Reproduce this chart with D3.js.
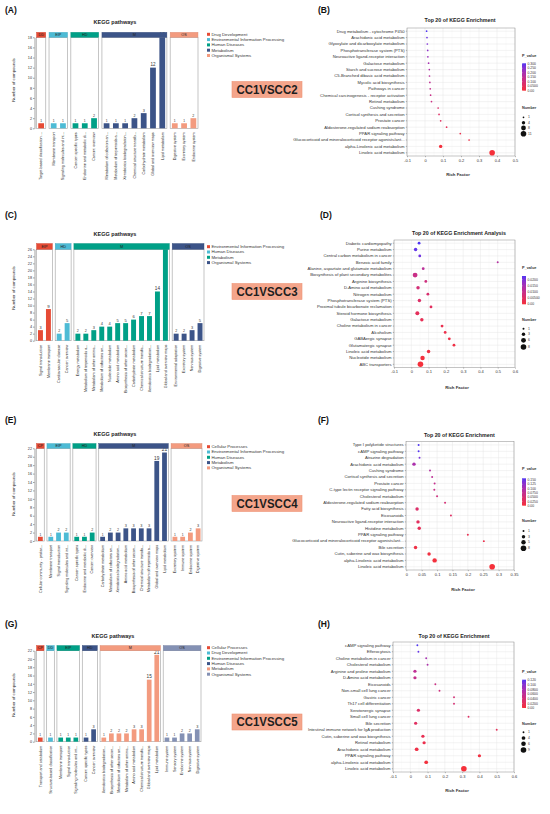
<!DOCTYPE html>
<html>
<head>
<meta charset="utf-8">
<script src="https://cdn.jsdelivr.net/npm/d3@7"></script>
<style>
  body { margin: 0; background: #fff; }
  svg text { font-family: "Liberation Sans", Arial, sans-serif; }
</style>
</head>
<body>
<svg id="fig" width="550" height="814"></svg>
<script>
// ggsci npg palette, assigned by legend order in each bar panel
const npg = ["#E64B35", "#4DBBD5", "#00A087", "#3C5488", "#F39B7F", "#8491B4"];

// ---------- (A) CC1VSCC2 KEGG classes ----------
const aGroups = ["DD", "EIP", "HD", "M", "OS"];
const aLegend = ["Drug Development", "Environmental Information Processing", "Human Diseases", "Metabolism", "Organismal Systems"];
const aLabels = ["Target-based classification ...", "Membrane transport", "Signaling molecules and int...",
  "Cancer: specific types", "Endocrine and metabolic di...", "Cancer: overview",
  "Metabolism of cofactors an...", "Metabolism of terpenoids a...", "Xenobiotics biodegradation...",
  "Chemical structure transfo...", "Carbohydrate metabolism", "Global and overview maps", "Lipid metabolism",
  "Digestive system", "Excretory system", "Endocrine system"];
const aValues = [1, 1, 1, 1, 1, 2, 1, 1, 1, 2, 3, 12, 18, 1, 1, 2];
const aGroupIdx = [0, 1, 1, 2, 2, 2, 3, 3, 3, 3, 3, 3, 3, 4, 4, 4];

// ---------- (B) CC1VSCC2 enrichment ----------
const bTerms = ["Drug metabolism - cytochrome P450", "Arachidonic acid metabolism", "Glyoxylate and dicarboxylate metabolism",
  "Phosphotransferase system (PTS)", "Neuroactive ligand-receptor interaction", "Galactose metabolism",
  "Starch and sucrose metabolism", "C5-Branched dibasic acid metabolism", "Mycolic acid biosynthesis",
  "Pathways in cancer", "Chemical carcinogenesis - receptor activation", "Retinol metabolism",
  "Cushing syndrome", "Cortisol synthesis and secretion", "Prostate cancer",
  "Aldosterone-regulated sodium reabsorption", "PPAR signaling pathway",
  "Glucocorticoid and mineralocorticoid receptor agonists/ant...", "alpha-Linolenic acid metabolism", "Linoleic acid metabolism"];
const bRich = [0.009, 0.011, 0.013, 0.015, 0.016, 0.020, 0.024, 0.025, 0.027, 0.029, 0.031, 0.036,
  0.073, 0.078, 0.087, 0.120, 0.196, 0.245, 0.087, 0.373];
const bPval = [0.305, 0.28, 0.26, 0.24, 0.22, 0.20, 0.18, 0.165, 0.15, 0.14, 0.13, 0.12,
  0.08, 0.07, 0.06, 0.05, 0.03, 0.02, 0.005, 0.0001];
const bCount = [1, 1, 1, 1, 1, 1, 1, 1, 1, 1, 1, 1, 1, 1, 1, 1, 1, 1, 4, 11];
const bXTicks = [-0.1, 0, 0.1, 0.2, 0.3, 0.4, 0.5];
const bPTicks = [0.3, 0.25, 0.2, 0.15, 0.1, 0.05, 0];
const bPLabels = ["0.300", "0.250", "0.200", "0.150", "0.100", "0.0500", "0.00"];
const bNTicks = [1, 4, 8, 11];

// ---------- (C) CC1VSCC3 KEGG classes ----------
const cGroups = ["EIP", "HD", "M", "OS"];
const cLegend = ["Environmental Information Processing", "Human Diseases", "Metabolism", "Organismal Systems"];
const cLabels = ["Signal transduction", "Membrane transport", "Cardiovascular disease", "Cancer: overview",
  "Energy metabolism", "Metabolism of terpenoids a...", "Metabolism of other amino...", "Metabolism of cofactors an...",
  "Nucleotide metabolism", "Amino acid metabolism", "Biosynthesis of other secon...", "Carbohydrate metabolism",
  "Chemical structure transfo...", "Xenobiotics biodegradation...", "Lipid metabolism", "Global and overview maps",
  "Environmental adaptation", "Excretory system", "Nervous system", "Digestive system"];
const cValues = [3, 9, 2, 5, 2, 2, 3, 4, 4, 5, 5, 6, 7, 7, 14, 26, 2, 2, 3, 5];
const cGroupIdx = [0, 0, 1, 1, 2, 2, 2, 2, 2, 2, 2, 2, 2, 2, 2, 2, 3, 3, 3, 3];

// ---------- (D) CC1VSCC3 enrichment ----------
const dTerms = ["Diabetic cardiomyopathy", "Purine metabolism", "Central carbon metabolism in cancer", "Benzoic acid family",
  "Alanine, aspartate and glutamate metabolism", "Biosynthesis of plant secondary metabolites", "Arginine biosynthesis",
  "D-Amino acid metabolism", "Nitrogen metabolism", "Phosphotransferase system (PTS)",
  "Proximal tubule bicarbonate reclamation", "Steroid hormone biosynthesis", "Galactose metabolism",
  "Choline metabolism in cancer", "Alcoholism", "GABAergic synapse", "Glutamatergic synapse",
  "Linoleic acid metabolism", "Nucleotide metabolism", "ABC transporters"];
const dRich = [0.045, 0.025, 0.049, 0.500, 0.069, 0.022, 0.084, 0.039, 0.096, 0.047, 0.114, 0.035, 0.061,
  0.178, 0.196, 0.220, 0.247, 0.100, 0.065, 0.053];
const dPval = [0.023, 0.022, 0.021, 0.013, 0.012, 0.0095, 0.0085, 0.0075, 0.0065, 0.0055, 0.0045, 0.004,
  0.0032, 0.0025, 0.002, 0.0016, 0.0013, 0.001, 0.0005, 0.0001];
const dCount = [2, 3, 2, 1, 2, 6, 2, 3, 2, 3, 2, 4, 3, 2, 2, 2, 2, 3, 5, 8];
const dXTicks = [-0.1, 0, 0.1, 0.2, 0.3, 0.4, 0.5, 0.6];
const dPTicks = [0.02, 0.015, 0.01, 0.005, 0];
const dPLabels = ["0.0200", "0.0150", "0.0100", "0.00500", "0.00"];
const dNTicks = [1, 3, 6, 8];

// ---------- (E) CC1VSCC4 KEGG classes ----------
const eGroups = ["CP", "EIP", "HD", "M", "OS"];
const eLegend = ["Cellular Processes", "Environmental Information Processing", "Human Diseases", "Metabolism", "Organismal Systems"];
const eLabels = ["Cellular community - prokar...", "Membrane transport", "Signal transduction", "Signaling molecules and int...",
  "Cancer: specific types", "Endocrine and metabolic di...", "Cancer: overview",
  "Carbohydrate metabolism", "Metabolism of cofactors an...", "Xenobiotics biodegradation...", "Amino acid metabolism",
  "Biosynthesis of other secon...", "Chemical structure transfo...", "Metabolism of terpenoids a...",
  "Global and overview maps", "Lipid metabolism",
  "Excretory system", "Immune system", "Endocrine system", "Digestive system"];
const eValues = [1, 1, 2, 2, 1, 1, 2, 1, 2, 2, 3, 3, 3, 3, 19, 21, 1, 1, 2, 3];
const eGroupIdx = [0, 1, 1, 1, 2, 2, 2, 3, 3, 3, 3, 3, 3, 3, 3, 3, 4, 4, 4, 4];

// ---------- (F) CC1VSCC4 enrichment ----------
const fTerms = ["Type I polyketide structures", "cAMP signaling pathway", "Atrazine degradation", "Arachidonic acid metabolism",
  "Cushing syndrome", "Cortisol synthesis and secretion", "Prostate cancer", "C-type lectin receptor signaling pathway",
  "Cholesterol metabolism", "Aldosterone-regulated sodium reabsorption", "Fatty acid biosynthesis", "Eicosanoids",
  "Neuroactive ligand-receptor interaction", "Histidine metabolism", "PPAR signaling pathway",
  "Glucocorticoid and mineralocorticoid receptor agonists/ant...", "Bile secretion",
  "Cutin, suberine and wax biosynthesis", "alpha-Linolenic acid metabolism", "Linoleic acid metabolism"];
const fRich = [0.040, 0.040, 0.043, 0.025, 0.077, 0.084, 0.092, 0.091, 0.100, 0.126, 0.035, 0.145,
  0.038, 0.042, 0.200, 0.252, 0.030, 0.074, 0.092, 0.279];
const fPval = [0.16, 0.158, 0.14, 0.10, 0.09, 0.08, 0.072, 0.068, 0.06, 0.05, 0.04, 0.035,
  0.03, 0.025, 0.02, 0.015, 0.01, 0.006, 0.002, 0.0001];
const fCount = [1, 1, 1, 3, 1, 1, 1, 1, 1, 1, 3, 1, 3, 3, 1, 1, 3, 3, 5, 8];
const fXTicks = [0, 0.05, 0.1, 0.15, 0.2, 0.25, 0.3, 0.35];
const fPTicks = [0.15, 0.125, 0.1, 0.075, 0.05, 0.025, 0];
const fPLabels = ["0.150", "0.125", "0.100", "0.0750", "0.0500", "0.0250", "0.00"];
const fNTicks = [1, 3, 5, 8];

// ---------- (G) CC1VSCC5 KEGG classes ----------
const gGroups = ["CP", "DD", "EIP", "HD", "M", "OS"];
const gLegend = ["Cellular Processes", "Drug Development", "Environmental Information Processing", "Human Diseases", "Metabolism", "Organismal Systems"];
const gLabels = ["Transport and catabolism", "Structure-based classification", "Membrane transport", "Signal transduction",
  "Signaling molecules and int...", "Cancer: specific types", "Cancer: overview",
  "Xenobiotics biodegradation...", "Biosynthesis of other secon...", "Metabolism of cofactors an...",
  "Metabolism of other amino...", "Amino acid metabolism", "Chemical structure transfo...",
  "Global and overview maps", "Lipid metabolism",
  "Immune system", "Sensory system", "Endocrine system", "Nervous system", "Digestive system"];
const gValues = [1, 1, 1, 1, 1, 1, 3, 1, 2, 2, 2, 3, 3, 15, 21, 1, 1, 2, 2, 3];
const gGroupIdx = [0, 1, 2, 2, 2, 3, 3, 4, 4, 4, 4, 4, 4, 4, 4, 5, 5, 5, 5, 5];

// ---------- (H) CC1VSCC5 enrichment ----------
const hTerms = ["cAMP signaling pathway", "Efferocytosis", "Choline metabolism in cancer", "Cholesterol metabolism",
  "Arginine and proline metabolism", "D-Amino acid metabolism", "Eicosanoids", "Non-small cell lung cancer",
  "Gastric cancer", "Th17 cell differentiation", "Serotonergic synapse", "Small cell lung cancer", "Bile secretion",
  "Intestinal immune network for IgA production", "Cutin, suberine and wax biosynthesis", "Retinol metabolism",
  "Arachidonic acid metabolism", "PPAR signaling pathway", "alpha-Linolenic acid metabolism", "Linoleic acid metabolism"];
const hRich = [0.041, 0.047, 0.092, 0.100, 0.027, 0.027, 0.145, 0.169, 0.253, 0.253, 0.047, 0.337, 0.031,
  0.500, 0.073, 0.080, 0.037, 0.400, 0.092, 0.310];
const hPval = [0.122, 0.115, 0.08, 0.075, 0.06, 0.055, 0.05, 0.045, 0.04, 0.038, 0.03, 0.028, 0.025,
  0.02, 0.015, 0.012, 0.008, 0.005, 0.002, 0.0001];
const hCount = [1, 1, 1, 1, 3, 3, 1, 1, 1, 1, 3, 1, 3, 1, 3, 3, 4, 3, 4, 9];
const hXTicks = [-0.1, 0, 0.1, 0.2, 0.3, 0.4, 0.5, 0.6];
const hPTicks = [0.12, 0.1, 0.08, 0.06, 0.04, 0.02, 0];
const hPLabels = ["0.120", "0.100", "0.0800", "0.0600", "0.0400", "0.0200", "0.00"];
const hNTicks = [1, 4, 6, 9];

const svg = d3.select("#fig");
svg.append("rect").attr("width", 550).attr("height", 814).attr("fill", "#fff");

function tag(txt, x, y) {
  svg.append("text").attr("x", x).attr("y", y).attr("dy", "0.35em")
    .attr("font-size", 8.5).attr("font-weight", "bold").attr("fill", "#111").text(txt);
}

function barPanel(L, groups, legend, labels, values, grp, yMax) {
  const g = svg.append("g");
  const gap = 0.35;
  const pos = labels.map((d, i) => i + grp[i] * gap);
  const x = d3.scaleLinear()
    .domain([0, labels.length + (groups.length - 1) * gap])
    .range([L.left + 2, L.right]);
  const y = d3.scaleLinear().domain([0, yMax]).range([L.y0, L.yTop]);
  const lblSize = v => 3.3 + 0.35 * Math.log2(v);

  g.append("text").attr("x", L.titleX).attr("y", L.titleY).attr("dy", "0.35em")
    .attr("text-anchor", "middle").attr("font-size", 5.5).attr("font-weight", "bold")
    .attr("fill", "#222").text("KEGG pathways");

  const spans = groups.map((name, k) => {
    const idx = d3.range(labels.length).filter(i => grp[i] === k);
    return { name, k, x0: x(pos[idx[0]]), x1: x(pos[idx[idx.length - 1]] + 1) };
  });

  g.selectAll("rect.box").data(spans).join("rect").attr("class", "box")
    .attr("x", d => d.x0).attr("y", L.yTop)
    .attr("width", d => d.x1 - d.x0).attr("height", L.y0 - L.yTop)
    .attr("fill", "none").attr("stroke", "#9e9e9e").attr("stroke-width", 0.6);

  g.selectAll("rect.bar").data(values).join("rect").attr("class", "bar")
    .attr("x", (d, i) => x(pos[i] + 0.19))
    .attr("width", x(0.62) - x(0))
    .attr("y", d => y(d))
    .attr("height", d => L.y0 - y(d))
    .attr("fill", (d, i) => npg[grp[i]]);

  g.selectAll("text.val").data(values).join("text").attr("class", "val")
    .attr("x", (d, i) => x(pos[i] + 0.5))
    .attr("y", d => y(d) - 1.2)
    .attr("text-anchor", "middle")
    .attr("font-size", d => lblSize(d))
    .attr("fill", "#333")
    .text(d => d);

  // strips go on top so values at the ceiling are hidden, as in the figure
  g.selectAll("rect.strip").data(spans).join("rect").attr("class", "strip")
    .attr("x", d => d.x0).attr("y", L.stripTop)
    .attr("width", d => d.x1 - d.x0).attr("height", L.yTop - L.stripTop)
    .attr("fill", d => npg[d.k]).attr("stroke", d => d3.color(npg[d.k]).darker(0.3)).attr("stroke-width", 0.4);
  g.selectAll("text.strip").data(spans).join("text").attr("class", "strip")
    .attr("x", d => (d.x0 + d.x1) / 2).attr("y", (L.stripTop + L.yTop) / 2)
    .attr("dy", "0.35em").attr("text-anchor", "middle")
    .attr("font-size", 3.8).attr("fill", "#222").text(d => d.name);

  const ax = g.append("g").attr("transform", `translate(${L.left},0)`)
    .call(d3.axisLeft(y).tickValues(d3.range(0, yMax + 1, 2)).tickSize(1.5).tickSizeOuter(0).tickPadding(1));
  ax.selectAll("text").attr("font-size", 3.8).attr("fill", "#333");
  ax.select(".domain").attr("stroke", "#444").attr("stroke-width", 0.5);
  ax.selectAll(".tick line").attr("stroke", "#444").attr("stroke-width", 0.5);

  g.selectAll("text.xl").data(labels).join("text").attr("class", "xl")
    .attr("transform", (d, i) => `translate(${x(pos[i] + 0.5)},${L.y0 + 4}) rotate(-90)`)
    .attr("dy", "0.35em").attr("text-anchor", "end")
    .attr("font-size", 3.7).attr("fill", "#222").text(d => d);

  g.append("text")
    .attr("transform", `translate(13,${L.yLabelY}) rotate(-90)`)
    .attr("text-anchor", "middle").attr("dy", "0.35em")
    .attr("font-size", 4.3).attr("fill", "#222").text("Number of compounds");

  const leg = g.append("g").attr("transform", `translate(207,${L.legY})`);
  legend.forEach((name, k) => {
    leg.append("rect").attr("x", 0).attr("y", k * 5.3 - 1.5).attr("width", 3).attr("height", 3).attr("fill", npg[k]);
    leg.append("text").attr("x", 4.5).attr("y", k * 5.3).attr("dy", "0.35em")
      .attr("font-size", 4.3).attr("fill", "#333").text(name);
  });

  g.append("rect").attr("x", 232).attr("y", L.ccY - 8).attr("width", 70).attr("height", 16)
    .attr("fill", "#F4A58B").attr("stroke", "#EE9375").attr("stroke-width", 0.6);
  g.append("text").attr("x", 267).attr("y", L.ccY).attr("dy", "0.36em")
    .attr("text-anchor", "middle").attr("font-size", 12).attr("font-weight", "bold")
    .attr("textLength", 61).attr("lengthAdjust", "spacingAndGlyphs")
    .attr("fill", "#1e1e1e").text(L.cc);
}

function dotPanel(L, terms, rich, pval, count, xTicks, pTicks, pLabels, nTicks) {
  const g = svg.append("g");
  const x = d3.scaleLinear().domain(L.xDomain).range([L.left, L.right]);
  const y = d3.scaleBand().domain(terms).range([L.top, L.bottom]);
  const color = d3.scaleLinear().domain([0, L.pMax]).range(["#F5303A", "#5036F2"])
    .interpolate(d3.interpolateLab).clamp(true);
  const r = d3.scaleSqrt().domain([0, d3.max(nTicks)]).range([0, 2.8]);
  const cy = t => y(t) + y.bandwidth() / 2;

  g.append("text").attr("x", L.titleX).attr("y", L.titleY).attr("dy", "0.35em")
    .attr("text-anchor", "middle").attr("font-size", 5.3).attr("font-weight", "bold")
    .attr("fill", "#222").text(L.title);

  g.append("rect").attr("x", L.left).attr("y", L.top)
    .attr("width", L.right - L.left).attr("height", L.bottom - L.top).attr("fill", "#fff");
  const minor = d3.pairs(xTicks).map(([a, b]) => (a + b) / 2);
  g.selectAll("line.minor").data(minor).join("line").attr("class", "minor")
    .attr("x1", d => x(d)).attr("x2", d => x(d)).attr("y1", L.top).attr("y2", L.bottom)
    .attr("stroke", "#f2f2f2").attr("stroke-width", 0.35);
  g.selectAll("line.vx").data(xTicks).join("line").attr("class", "vx")
    .attr("x1", d => x(d)).attr("x2", d => x(d)).attr("y1", L.top).attr("y2", L.bottom)
    .attr("stroke", "#e4e4e4").attr("stroke-width", 0.45);
  g.selectAll("line.hy").data(terms).join("line").attr("class", "hy")
    .attr("x1", L.left).attr("x2", L.right).attr("y1", cy).attr("y2", cy)
    .attr("stroke", "#e4e4e4").attr("stroke-width", 0.45);
  g.append("rect").attr("x", L.left).attr("y", L.top)
    .attr("width", L.right - L.left).attr("height", L.bottom - L.top)
    .attr("fill", "none").attr("stroke", "#8a8a8a").attr("stroke-width", 0.5);

  g.selectAll("circle.pt").data(terms).join("circle").attr("class", "pt")
    .attr("cx", (d, i) => x(rich[i])).attr("cy", cy)
    .attr("r", (d, i) => r(count[i]))
    .attr("fill", (d, i) => color(pval[i]));

  const ay = g.append("g").attr("transform", `translate(${L.left},0)`)
    .call(d3.axisLeft(y).tickSize(1.2).tickSizeOuter(0).tickPadding(1.2));
  ay.select(".domain").remove();
  ay.selectAll("text").attr("font-size", 4.2).attr("fill", "#333");
  ay.selectAll(".tick line").attr("stroke", "#555").attr("stroke-width", 0.4);

  const axx = g.append("g").attr("transform", `translate(0,${L.bottom})`)
    .call(d3.axisBottom(x).tickValues(xTicks).tickFormat(d => String(d)).tickSize(1.2).tickSizeOuter(0).tickPadding(1.5));
  axx.select(".domain").remove();
  axx.selectAll("text").attr("font-size", 4).attr("fill", "#333");
  axx.selectAll(".tick line").attr("stroke", "#555").attr("stroke-width", 0.4);

  g.append("text").attr("x", L.xLabX).attr("y", L.xLabY).attr("dy", "0.35em")
    .attr("text-anchor", "middle").attr("font-size", 4.3).attr("font-weight", "bold")
    .attr("fill", "#333").text("Rich Factor");

  // colour bar
  const gid = "grad" + L.id;
  const grad = svg.append("defs").append("linearGradient").attr("id", gid)
    .attr("x1", 0).attr("y1", 1).attr("x2", 0).attr("y2", 0);
  d3.range(0, 1.0001, 0.1).forEach(t => {
    grad.append("stop").attr("offset", t).attr("stop-color", color(t * L.pMax));
  });
  g.append("text").attr("x", L.legX).attr("y", L.pTitleY).attr("dy", "0.35em")
    .attr("font-size", 3.8).attr("font-weight", "bold").attr("fill", "#333").text("P_value");
  g.append("rect").attr("x", L.legX).attr("y", L.barTop).attr("width", 4)
    .attr("height", L.barBot - L.barTop).attr("fill", `url(#${gid})`);
  const pb = d3.scaleLinear().domain([0, L.pMax]).range([L.barBot, L.barTop]);
  g.selectAll("line.pt").data(pTicks).join("line").attr("class", "pt")
    .attr("x1", L.legX).attr("x2", L.legX + 0.8).attr("y1", d => pb(d)).attr("y2", d => pb(d))
    .attr("stroke", "#fff").attr("stroke-width", 0.3);
  g.selectAll("text.pl").data(pTicks).join("text").attr("class", "pl")
    .attr("x", L.legX + 5.5).attr("y", d => pb(d)).attr("dy", "0.35em")
    .attr("font-size", 3.4).attr("fill", "#333").text((d, i) => pLabels[i]);

  // size legend
  g.append("text").attr("x", L.legX).attr("y", L.nTitleY).attr("dy", "0.35em")
    .attr("font-size", 3.8).attr("font-weight", "bold").attr("fill", "#333").text("Number");
  nTicks.forEach((n, i) => {
    g.append("circle").attr("cx", L.legX + 1.5).attr("cy", L.nY[i]).attr("r", r(n)).attr("fill", "#111");
    g.append("text").attr("x", L.legX + 6).attr("y", L.nY[i]).attr("dy", "0.35em")
      .attr("font-size", 3.4).attr("fill", "#333").text(n);
  });
}

tag("(A)", 5, 10);
tag("(B)", 318, 10);
tag("(C)", 5, 215.5);
tag("(D)", 320, 215);
tag("(E)", 5, 420.5);
tag("(F)", 318, 420);
tag("(G)", 5, 624.5);
tag("(H)", 318, 624);

barPanel({ left: 34.5, right: 198, y0: 128.3, yTop: 37.3, stripTop: 32.3, titleX: 115, titleY: 21.7,
  yLabelY: 80, legY: 34.3, ccY: 89.5, cc: "CC1VSCC2" }, aGroups, aLegend, aLabels, aValues, aGroupIdx, 18);
barPanel({ left: 34.5, right: 204, y0: 340.7, yTop: 249.3, stripTop: 243.5, titleX: 115, titleY: 234.3,
  yLabelY: 288, legY: 246.7, ccY: 291.5, cc: "CC1VSCC3" }, cGroups, cLegend, cLabels, cValues, cGroupIdx, 26);
barPanel({ left: 34.5, right: 202, y0: 541, yTop: 448.3, stripTop: 443.5, titleX: 115, titleY: 434.3,
  yLabelY: 494, legY: 446.7, ccY: 503.5, cc: "CC1VSCC4" }, eGroups, eLegend, eLabels, eValues, eGroupIdx, 22);
barPanel({ left: 34.5, right: 201, y0: 741.7, yTop: 650.7, stripTop: 645.5, titleX: 113, titleY: 635.7,
  yLabelY: 695, legY: 647.7, ccY: 722, cc: "CC1VSCC5" }, gGroups, gLegend, gLabels, gValues, gGroupIdx, 22);

dotPanel({ id: "B", left: 407, right: 515, top: 28, bottom: 156, xDomain: [-0.1, 0.5], pMax: 0.305,
  title: "Top 20 of KEGG Enrichment", titleX: 460, titleY: 20, xLabX: 458, xLabY: 174,
  legX: 522, pTitleY: 56, barTop: 63.3, barBot: 90.7, nTitleY: 107.7, nY: [117.3, 122.7, 128, 133.7] },
  bTerms, bRich, bPval, bCount, bXTicks, bPTicks, bPLabels, bNTicks);
dotPanel({ id: "D", left: 394, right: 515, top: 240, bottom: 367.5, xDomain: [-0.1, 0.6], pMax: 0.023,
  title: "Top 20 of KEGG Enrichment Analysis", titleX: 459, titleY: 233.3, xLabX: 457, xLabY: 387.3,
  legX: 522, pTitleY: 267.7, barTop: 276, barBot: 304.3, nTitleY: 319.3, nY: [328.7, 334.3, 340.3, 347] },
  dTerms, dRich, dPval, dCount, dXTicks, dPTicks, dPLabels, dNTicks);
dotPanel({ id: "F", left: 406, right: 514, top: 441.7, bottom: 570, xDomain: [-0.001, 0.35], pMax: 0.16,
  title: "Top 20 of KEGG Enrichment", titleX: 459.3, titleY: 435, xLabX: 463, xLabY: 589,
  legX: 522, pTitleY: 468.3, barTop: 478.3, barBot: 505.7, nTitleY: 520.7, nY: [531, 536.7, 542.3, 548.3] },
  fTerms, fRich, fPval, fCount, fXTicks, fPTicks, fPLabels, fNTicks);
dotPanel({ id: "H", left: 393, right: 514, top: 642, bottom: 772, xDomain: [-0.1, 0.6], pMax: 0.122,
  title: "Top 20 of KEGG Enrichment", titleX: 454, titleY: 636.3, xLabX: 457, xLabY: 790.7,
  legX: 522, pTitleY: 671.3, barTop: 679.7, barBot: 708, nTitleY: 723.3, nY: [732.3, 738, 743.7, 750] },
  hTerms, hRich, hPval, hCount, hXTicks, hPTicks, hPLabels, hNTicks);
</script>
</body>
</html>
